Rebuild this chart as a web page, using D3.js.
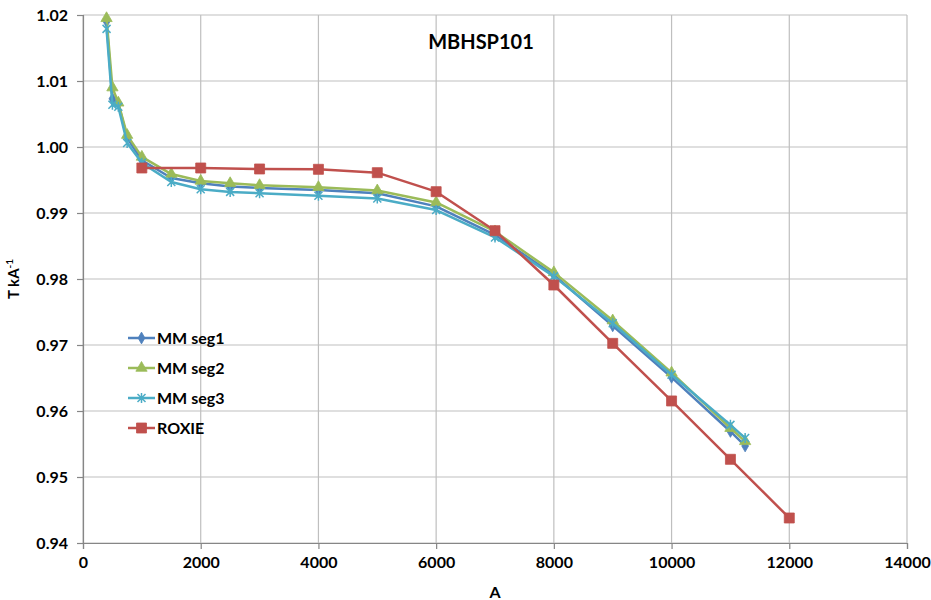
<!DOCTYPE html>
<html>
<head>
<meta charset="utf-8">
<script src="https://cdn.jsdelivr.net/npm/d3@7"></script>
<style>
  body { margin: 0; background: #fff; }
  text { font-family: Lato, "Open Sans", sans-serif; font-weight: bold; fill: #000; }
</style>
</head>
<body>
<div class="chart"></div>
<script>
var w = 931;
var h = 600;

// current (A)
var mmCurrents = [400, 500, 600, 750, 1000, 1500, 2000, 2500, 3000, 4000, 5000, 6000, 7000, 8000, 9000, 10000, 11000, 11250];
var seg1 = [1.0190, 1.0073, 1.0066, 1.0014, 0.9980, 0.9953, 0.9945, 0.9940, 0.9938, 0.9935, 0.9930, 0.9910, 0.9867, 0.9806, 0.9729, 0.9651, 0.9569, 0.9547];
var seg2 = [1.0195, 1.0090, 1.0067, 1.0018, 0.9985, 0.9959, 0.99485, 0.9945, 0.9942, 0.9939, 0.9934, 0.9916, 0.9872, 0.9810, 0.9737, 0.9658, 0.9574, 0.9554];
var seg3 = [1.0179, 1.0064, 1.0061, 1.0006, 0.9976, 0.9947, 0.9936, 0.9932, 0.9930, 0.9926, 0.9922, 0.99045, 0.9863, 0.9804, 0.9733, 0.9655, 0.9579, 0.9559];
var roxieCurrents = [1000, 2000, 3000, 4000, 5000, 6000, 7000, 8000, 9000, 10000, 11000, 12000];
var roxie = [0.99682, 0.99682, 0.99667, 0.99662, 0.99611, 0.99323, 0.98732, 0.97909, 0.97025, 0.96152, 0.95268, 0.94379];

var xTicks = [0, 2000, 4000, 6000, 8000, 10000, 12000, 14000];
var yTicks = [0.94, 0.95, 0.96, 0.97, 0.98, 0.99, 1.00, 1.01, 1.02];

var series = [
  {name: "MM seg1", x: mmCurrents, y: seg1, color: "#4F81BD", marker: "diamond"},
  {name: "MM seg2", x: mmCurrents, y: seg2, color: "#9BBB59", marker: "triangle"},
  {name: "MM seg3", x: mmCurrents, y: seg3, color: "#4BACC6", marker: "star"},
  {name: "ROXIE", x: roxieCurrents, y: roxie, color: "#C0504D", marker: "square"}
];

var pLeft = 83, pRight = 907, pTop = 15, pBottom = 543;

var xScale = d3.scaleLinear().domain([0, 14000]).range([pLeft, pRight]);
var yScale = d3.scaleLinear().domain([0.94, 1.02]).range([pBottom, pTop]);

var svg = d3.select(".chart").append("svg")
    .attr("width", w)
    .attr("height", h);

// grid
svg.append("g").selectAll("line")
    .data(yTicks)
    .enter().append("line")
    .attr("x1", pLeft).attr("x2", pRight)
    .attr("y1", function(d) { return yScale(d); })
    .attr("y2", function(d) { return yScale(d); })
    .attr("stroke", "#bfbfbf").attr("stroke-width", 1.2);

svg.append("g").selectAll("line")
    .data(xTicks)
    .enter().append("line")
    .attr("x1", function(d) { return xScale(d); })
    .attr("x2", function(d) { return xScale(d); })
    .attr("y1", pTop).attr("y2", pBottom)
    .attr("stroke", "#bfbfbf").attr("stroke-width", 1.2);

// axes
var xAxis = d3.axisBottom(xScale).tickValues(xTicks).tickSize(6).tickPadding(8)
    .tickFormat(d3.format("d"));
var yAxis = d3.axisLeft(yScale).tickValues(yTicks).tickSize(6).tickPadding(9)
    .tickFormat(d3.format(".2f"));

var gx = svg.append("g").attr("transform", "translate(0," + pBottom + ")").call(xAxis);
var gy = svg.append("g").attr("transform", "translate(" + pLeft + ",0)").call(yAxis);

[gx, gy].forEach(function(g) {
  g.select(".domain").attr("stroke", "#868686").attr("stroke-width", 1.2);
  g.selectAll(".tick line").attr("stroke", "#868686").attr("stroke-width", 1.2);
  g.selectAll(".tick text").style("font-family", "Lato, sans-serif")
      .style("font-weight", "bold").style("font-size", "16px").attr("fill", "#000");
});

// lines
var line = d3.line()
    .x(function(d) { return xScale(d[0]); })
    .y(function(d) { return yScale(d[1]); });

function markerPath(type) {
  if (type === "diamond") return d3.symbol().type(d3.symbolDiamond).size(40)();
  if (type === "triangle") return d3.symbol().type(d3.symbolTriangle).size(55)();
  if (type === "square") return "M-5,-5H5V5H-5Z";
  return "M-4,-4L4,4M-4,4L4,-4M0,-5V5";
}

function drawMarker(g, type, color) {
  var p = g.append("path").attr("d", markerPath(type));
  if (type === "star") {
    p.attr("fill", "none").attr("stroke", color).attr("stroke-width", 1.5);
  } else {
    p.attr("fill", color).attr("stroke", color).attr("stroke-width", 0.8);
  }
}

series.forEach(function(s) {
  var pts = s.x.map(function(v, i) { return [v, s.y[i]]; });
  var g = svg.append("g");
  g.append("path")
      .datum(pts)
      .attr("d", line)
      .attr("fill", "none")
      .attr("stroke", s.color)
      .attr("stroke-width", 2.5)
      .attr("stroke-linejoin", "round");
  g.selectAll("g")
      .data(pts)
      .enter().append("g")
      .attr("transform", function(d) { return "translate(" + xScale(d[0]) + "," + yScale(d[1]) + ")"; })
      .each(function() { drawMarker(d3.select(this), s.marker, s.color); });
});

// legend
var legend = svg.append("g");
series.forEach(function(s, i) {
  var y = 338 + i * 30;
  var g = legend.append("g");
  g.append("line").attr("x1", 128).attr("x2", 155).attr("y1", y).attr("y2", y)
      .attr("stroke", s.color).attr("stroke-width", 2.5);
  var m = g.append("g").attr("transform", "translate(141.5," + y + ")");
  drawMarker(m, s.marker, s.color);
  g.append("text").attr("x", 157).attr("y", y + 6)
      .style("font-size", "16px").text(s.name);
});

// title and axis labels
svg.append("text").attr("x", 481).attr("y", 49).attr("text-anchor", "middle")
    .style("font-size", "20px").text("MBHSP101");

svg.append("text").attr("x", 495).attr("y", 598).attr("text-anchor", "middle")
    .style("font-size", "16px").text("A");

var yl = svg.append("text")
    .attr("transform", "translate(19,279) rotate(-90)")
    .attr("text-anchor", "middle")
    .style("font-size", "15px");
yl.append("tspan").text("T kA");
yl.append("tspan").attr("dy", -6).style("font-size", "10px").text("-1");
</script>
</body>
</html>
